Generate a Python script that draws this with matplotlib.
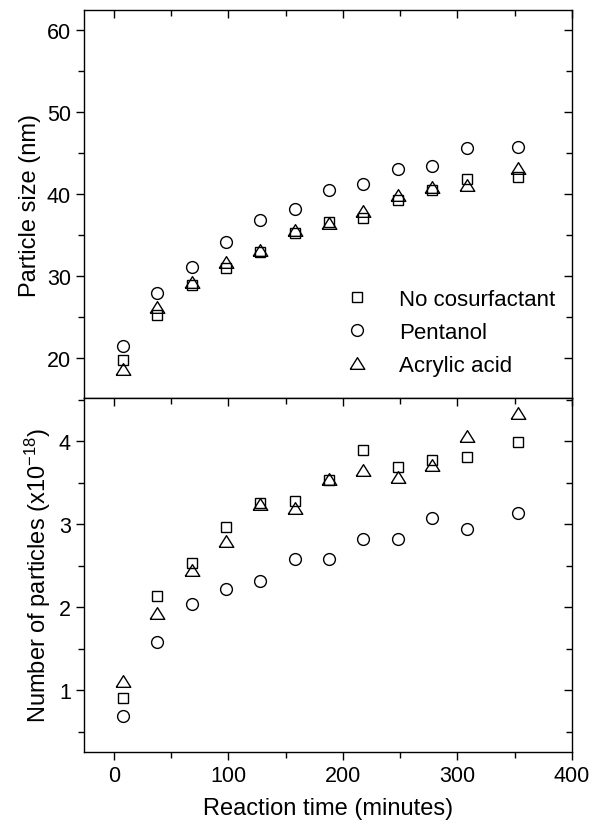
import matplotlib
matplotlib.use("Agg")
import matplotlib.pyplot as plt
import numpy as np
from matplotlib.ticker import MultipleLocator

plt.rcParams["font.family"] = ["Liberation Sans", "DejaVu Sans"]
plt.rcParams["mathtext.fontset"] = "custom"
plt.rcParams["mathtext.rm"] = "Liberation Sans"
plt.rcParams["mathtext.it"] = "Liberation Sans"
plt.rcParams["mathtext.default"] = "regular"
plt.rcParams["axes.linewidth"] = 1.0

# reaction time (minutes)
time = [8, 38, 68, 98, 128, 158, 188, 218, 248, 278, 308, 353]

# particle size (nm)
size_none = [19.7, 25.2, 28.9, 30.9, 32.9, 35.2, 36.5, 37.0, 39.3, 40.5, 41.8, 42.1]
size_pent = [21.5, 27.9, 31.1, 34.1, 36.8, 38.1, 40.4, 41.2, 43.0, 43.4, 45.6, 45.7]
size_acry = [18.6, 26.2, 29.3, 31.7, 33.1, 35.6, 36.4, 37.9, 39.8, 40.8, 41.1, 43.1]

# number of particles (x10^-18)
num_none = [0.91, 2.14, 2.54, 2.97, 3.26, 3.28, 3.53, 3.90, 3.69, 3.77, 3.81, 3.99]
num_pent = [0.69, 1.58, 2.04, 2.22, 2.32, 2.58, 2.58, 2.82, 2.82, 3.08, 2.94, 3.14]
num_acry = [1.12, 1.93, 2.45, 2.80, 3.24, 3.20, 3.54, 3.65, 3.57, 3.71, 4.06, 4.34]

legend_name = ["No cosurfactant", "Pentanol", "Acrylic acid"]

tri = [(-1, -0.8), (1, -0.8), (0, 0.8), (-1, -0.8)]
styles = [dict(marker="s", ms=7.5), dict(marker="o", ms=8.5), dict(marker=tri, ms=10.5)]

fig = plt.figure(figsize=(6.11, 8.29), dpi=100)
ax1 = fig.add_axes([0.1375, 0.5187, 0.7985, 0.468])
ax2 = fig.add_axes([0.1375, 0.0917, 0.7985, 0.427])

for ys, st, lab in zip([size_none, size_pent, size_acry], styles, legend_name):
    ax1.plot(time, ys, linestyle="none", mfc="none", mec="k", mew=1.0, label=lab, **st)
for ys, st in zip([num_none, num_pent, num_acry], styles):
    ax2.plot(time, ys, linestyle="none", mfc="none", mec="k", mew=1.0, **st)

for ax in (ax1, ax2):
    ax.set_xlim(-26, 400)
    ax.xaxis.set_major_locator(MultipleLocator(100))
    ax.xaxis.set_minor_locator(MultipleLocator(50))
    ax.tick_params(axis="both", which="major", labelsize=15.5, length=6, width=1.0)
    ax.tick_params(axis="both", which="minor", length=4, width=1.0)
    ax.tick_params(axis="y", which="both", left=True, right=True, direction="out")

ax1.set_ylim(15.1, 62.4)
ax1.yaxis.set_major_locator(MultipleLocator(10))
ax1.yaxis.set_minor_locator(MultipleLocator(5))
ax1.tick_params(axis="x", which="both", top=True, bottom=False, labelbottom=False, direction="in")
ax1.set_ylabel("Particle size (nm)", fontsize=17, labelpad=4)

ax2.set_ylim(0.26, 4.52)
ax2.yaxis.set_major_locator(MultipleLocator(1))
ax2.yaxis.set_minor_locator(MultipleLocator(0.5))
ax2.tick_params(axis="x", which="both", top=True, bottom=True)
ax2.set_xlabel("Reaction time (minutes)", fontsize=17, labelpad=8)
ax2.set_ylabel("Number of particles (x10$^{-18}$)", fontsize=17, labelpad=4)

# ticks on the right/top point inward, left/bottom outward
for ax in (ax1, ax2):
    for t in ax.yaxis.get_major_ticks() + ax.yaxis.get_minor_ticks():
        t.tick2line.set_marker(matplotlib.lines.TICKLEFT)
for t in ax2.xaxis.get_major_ticks() + ax2.xaxis.get_minor_ticks():
    t.tick2line.set_marker(matplotlib.lines.TICKDOWN)

ax1.legend(frameon=False, fontsize=16, loc="upper left", bbox_to_anchor=(0.495, 0.305),
           handletextpad=0.9, labelspacing=0.55, borderaxespad=0)

fig.savefig("out.png", dpi=100)
